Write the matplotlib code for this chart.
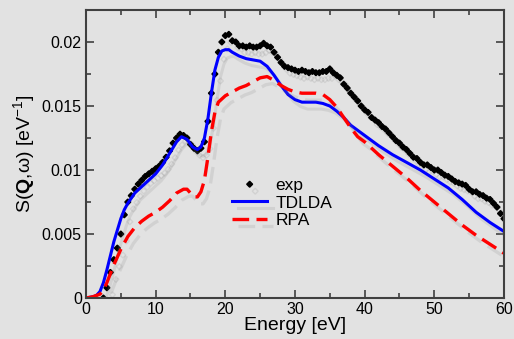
import numpy as np
import matplotlib
matplotlib.use("Agg")
import matplotlib.pyplot as plt
import matplotlib.patheffects as pe
from matplotlib.ticker import MultipleLocator

plt.rcParams['font.family'] = ['Liberation Sans', 'DejaVu Sans']
plt.rcParams['mathtext.fontset'] = 'custom'
plt.rcParams['mathtext.rm'] = 'Liberation Sans'
plt.rcParams['mathtext.bf'] = 'Liberation Sans:bold'

# TDLDA curve
tdlda_e = [0, 1, 1.5, 2, 2.5, 3, 3.5, 4, 4.5, 5, 5.5, 6, 7, 8, 9, 10, 11, 12, 13, 13.7,
           14.5, 15.3, 16, 16.5, 17, 17.5, 18, 18.5, 19, 19.5, 20, 20.5, 21, 22, 23, 24,
           25, 26, 27, 28, 29, 30, 31, 32, 33, 34, 35, 36, 37, 38, 39, 40, 42, 44, 46,
           48, 50, 52, 54, 56, 58, 60]
tdlda_s = [0, 0.0001, 0.0002, 0.0005, 0.0012, 0.0022, 0.0033, 0.0044, 0.0053, 0.0062,
           0.0069, 0.0074, 0.0082, 0.0087, 0.0092, 0.0097, 0.0104, 0.0113, 0.0122, 0.0126,
           0.0124, 0.0118, 0.0116, 0.0118, 0.0125, 0.0140, 0.0160, 0.0178, 0.0188, 0.0193,
           0.0194, 0.0194, 0.0192, 0.0189, 0.0187, 0.0186, 0.0185, 0.0181, 0.0174, 0.0166,
           0.0159, 0.0155, 0.0153, 0.0153, 0.0153, 0.0152, 0.0150, 0.0146, 0.0141, 0.0135,
           0.0131, 0.0127, 0.0119, 0.0112, 0.0106, 0.0100, 0.0093, 0.0086, 0.0077, 0.0067,
           0.0059, 0.0052]

# RPA curve
rpa_e = [0, 1, 2, 2.5, 3, 3.5, 4, 4.5, 5, 5.5, 6, 7, 8, 9, 10, 11, 12, 13, 14, 14.5, 15,
         15.5, 16, 16.5, 17, 17.5, 18, 18.5, 19, 20, 21, 22, 23, 24, 25, 26, 27, 28, 29,
         30, 31, 32, 33, 34, 35, 36, 37, 38, 39, 40, 42, 44, 46, 48, 50, 52, 54, 56, 58, 60]
rpa_s = [0, 0.0001, 0.0003, 0.0006, 0.0012, 0.0019, 0.0026, 0.0032, 0.0038, 0.0043,
         0.0048, 0.0055, 0.0060, 0.0064, 0.0067, 0.0071, 0.0076, 0.0082, 0.0085, 0.0085,
         0.0082, 0.0079, 0.0079, 0.0083, 0.0092, 0.0110, 0.0130, 0.0145, 0.0153, 0.0158,
         0.0161, 0.0164, 0.0166, 0.0169, 0.0172, 0.0173, 0.0170, 0.0166, 0.0163, 0.0161,
         0.0160, 0.0160, 0.0160, 0.0159, 0.0155, 0.0149, 0.0141, 0.0133, 0.0126, 0.0122,
         0.0112, 0.0103, 0.0094, 0.0084, 0.0075, 0.0066, 0.0057, 0.0049, 0.0042, 0.0035]

# experimental points, every 0.5 eV from 2.5 eV
exp_s = [0.0000, 0.0008, 0.0020, 0.0030, 0.0039, 0.0050, 0.0065, 0.0075, 0.0080, 0.0085,
         0.0089, 0.0092, 0.0095, 0.0097, 0.0099, 0.0101, 0.0103, 0.0106, 0.0110, 0.0115,
         0.0121, 0.0125, 0.0128, 0.0127, 0.0125, 0.0120, 0.0117, 0.0115, 0.0117, 0.0122,
         0.0138, 0.0160, 0.0175, 0.0192, 0.0200, 0.0205, 0.0206, 0.0201, 0.0200, 0.0197,
         0.0197, 0.0196, 0.0197, 0.0196, 0.0196, 0.0197, 0.0199, 0.0197, 0.0196, 0.0192,
         0.0188, 0.0184, 0.0181, 0.0180, 0.0179, 0.0178, 0.0177, 0.0178, 0.0177, 0.0176,
         0.0177, 0.0176, 0.0176, 0.0177, 0.0177, 0.0179, 0.0176, 0.0174, 0.0172, 0.0167,
         0.0164, 0.0160, 0.0157, 0.0154, 0.0150, 0.0147, 0.0145, 0.0141, 0.0139, 0.0137,
         0.0134, 0.0132, 0.0129, 0.0126, 0.0123, 0.0121, 0.0118, 0.0116, 0.0113, 0.0110,
         0.0109, 0.0106, 0.0104, 0.0104, 0.0102, 0.0100, 0.0100, 0.0098, 0.0096, 0.0095,
         0.0093, 0.0091, 0.0090, 0.0089, 0.0088, 0.0085, 0.0083, 0.0083, 0.0081, 0.0080,
         0.0078, 0.0077, 0.0074, 0.0071, 0.0066, 0.0062]
exp_e = 2.5 + 0.5 * np.arange(len(exp_s))

bg = '#e2e2e2'
fig = plt.figure(figsize=(5.14, 3.39), dpi=100, facecolor=bg)
ax = fig.add_axes([0.1673, 0.1209, 0.8132, 0.8496], facecolor=bg)

shadow = [pe.SimpleLineShadow(offset=(4, -5), shadow_color='#888888', alpha=0.18),
          pe.Normal()]

ax.plot(exp_e, exp_s, 'D', color='black', ms=3.0, label='exp', path_effects=shadow)
ax.plot(tdlda_e, tdlda_s, '-', color='#0000ff', lw=2.2, label='TDLDA', path_effects=shadow)
ax.plot(rpa_e, rpa_s, '--', color='#ff0000', lw=2.4, dashes=(5, 2.2), label='RPA',
        path_effects=shadow)

ax.set_xlim(0, 60)
ax.set_ylim(0, 0.0225)
ax.xaxis.set_major_locator(MultipleLocator(10))
ax.xaxis.set_minor_locator(MultipleLocator(5))
ax.yaxis.set_major_locator(MultipleLocator(0.005))
ax.yaxis.set_minor_locator(MultipleLocator(0.0025))
ax.set_yticks([0, 0.005, 0.01, 0.015, 0.02])
ax.set_yticklabels(['0', '0.005', '0.01', '0.015', '0.02'])
ax.tick_params(which='both', direction='in', top=True, right=True, color='#404040',
               labelsize=11.5, width=1.2)
ax.tick_params(which='major', length=6, pad=3)
ax.tick_params(which='minor', length=3.5)
for sp in ax.spines.values():
    sp.set_color('#404040')
    sp.set_linewidth(1.5)

ax.set_xlabel('Energy [eV]', fontsize=14, labelpad=0)
ax.set_ylabel(r'S($\mathbf{Q}$,ω) [eV$^{-1}$]', fontsize=14, labelpad=3)

ax.legend(loc='center', bbox_to_anchor=(0.47, 0.33), frameon=False, fontsize=12.5,
          handlelength=2.0, handletextpad=0.5, labelspacing=0.12, borderpad=0)

fig.savefig('out.png', dpi=100, facecolor=bg)
